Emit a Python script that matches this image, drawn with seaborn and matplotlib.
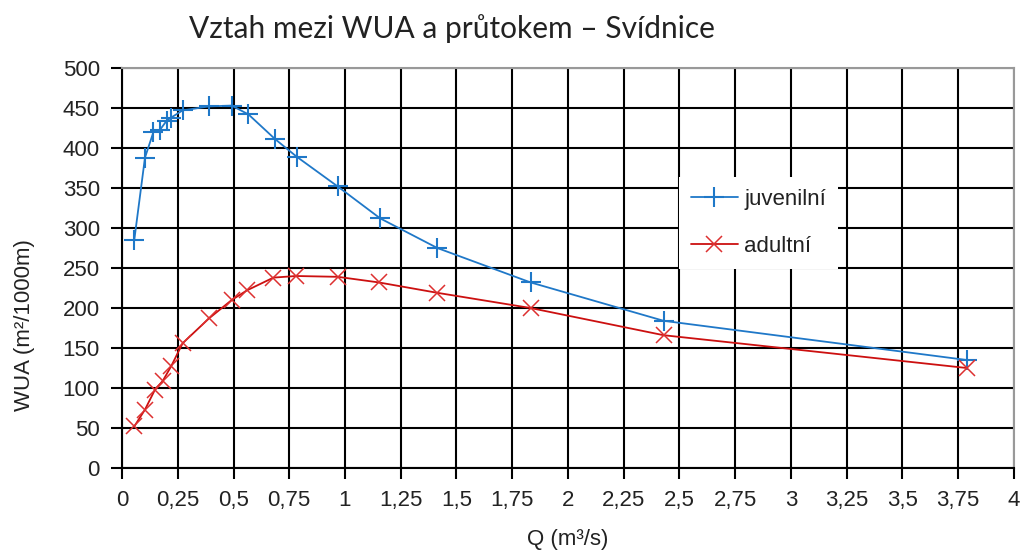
import matplotlib
matplotlib.use("Agg")
import matplotlib.pyplot as plt
import seaborn as sns
import pandas as pd

# Data
q_juv = [0.055, 0.103, 0.141, 0.171, 0.20, 0.22, 0.272, 0.39, 0.492, 0.567,
         0.687, 0.784, 0.967, 1.158, 1.414, 1.832, 2.429, 3.789]
wua_juv = [285, 388, 420, 423, 434, 438, 447, 452, 453, 442,
           411, 389, 352, 312, 275, 232, 184, 135]

q_adu = [0.055, 0.103, 0.148, 0.183, 0.22, 0.272, 0.39, 0.492, 0.56, 0.679,
         0.781, 0.967, 1.151, 1.414, 1.832, 2.429, 3.789]
wua_adu = [52, 73, 98, 109, 127, 156, 187, 210, 222, 238,
           240, 239, 232, 219, 200, 166, 125]

x_ticks = [0, 0.25, 0.5, 0.75, 1, 1.25, 1.5, 1.75, 2, 2.25, 2.5, 2.75, 3, 3.25, 3.5, 3.75, 4]
y_ticks = list(range(0, 501, 50))

df_juv = pd.DataFrame({"Q": q_juv, "WUA": wua_juv})
df_adu = pd.DataFrame({"Q": q_adu, "WUA": wua_adu})

sns.set_style("white")
plt.rcParams["font.family"] = ["Liberation Sans", "DejaVu Sans"]

fig = plt.figure(figsize=(10.21, 5.51), dpi=100)
ax = fig.add_axes([0.1195, 0.1506, 0.8736, 0.726])

blue = "#1f78c8"
red = "#cc1010"

sns.lineplot(data=df_juv, x="Q", y="WUA", sort=False, ax=ax, color=blue,
             linewidth=1.3, marker="+", markersize=15, markeredgewidth=1.5,
             markeredgecolor=blue, label="juvenilní")
sns.lineplot(data=df_adu, x="Q", y="WUA", sort=False, ax=ax, color=red,
             linewidth=1.3, marker="x", markersize=11, markeredgewidth=1.1,
             markeredgecolor="#dd3030", label="adultní")

ax.set_xlim(0, 4)
ax.set_ylim(0, 500)
ax.set_xticks(x_ticks)
ax.set_xticklabels([f"{t:g}".replace(".", ",") for t in x_ticks])
ax.set_yticks(y_ticks)
ax.set_yticklabels([str(t) for t in y_ticks])

ax.grid(True, color="black", linewidth=1.5)
ax.set_axisbelow(True)
for side in ["left", "bottom"]:
    ax.spines[side].set_color("black")
    ax.spines[side].set_linewidth(1.5)
for side in ["top", "right"]:
    ax.spines[side].set_color("#999999")
    ax.spines[side].set_linewidth(1.5)

ax.tick_params(axis="both", which="both", direction="out", length=8, width=1.5,
               color="black", labelsize=16, labelcolor="#222222", pad=8,
               bottom=True, left=True)

ax.set_xlabel("Q (m³/s)", fontsize=16, color="#222222", labelpad=13)
ax.set_ylabel("WUA (m²/1000m)", fontsize=16, color="#222222")
ax.yaxis.set_label_coords(-0.097, 0.3575)

fig.text(0.443, 0.948, "Vztah mezi WUA a průtokem – Svídnice",
         ha="center", va="center", fontsize=21.5, color="#222222",
         family=["Lato", "DejaVu Sans"])

leg = ax.legend(loc="upper left", bbox_to_anchor=(0.6244, 0.7275), frameon=True,
                fancybox=False, framealpha=1, edgecolor="white", fontsize=16,
                handlelength=2.1, handletextpad=0.3, labelspacing=1.15,
                borderpad=0.55, borderaxespad=0)
leg.get_frame().set_linewidth(0)
for t in leg.get_texts():
    t.set_color("#222222")

fig.savefig("out.png", dpi=100)
